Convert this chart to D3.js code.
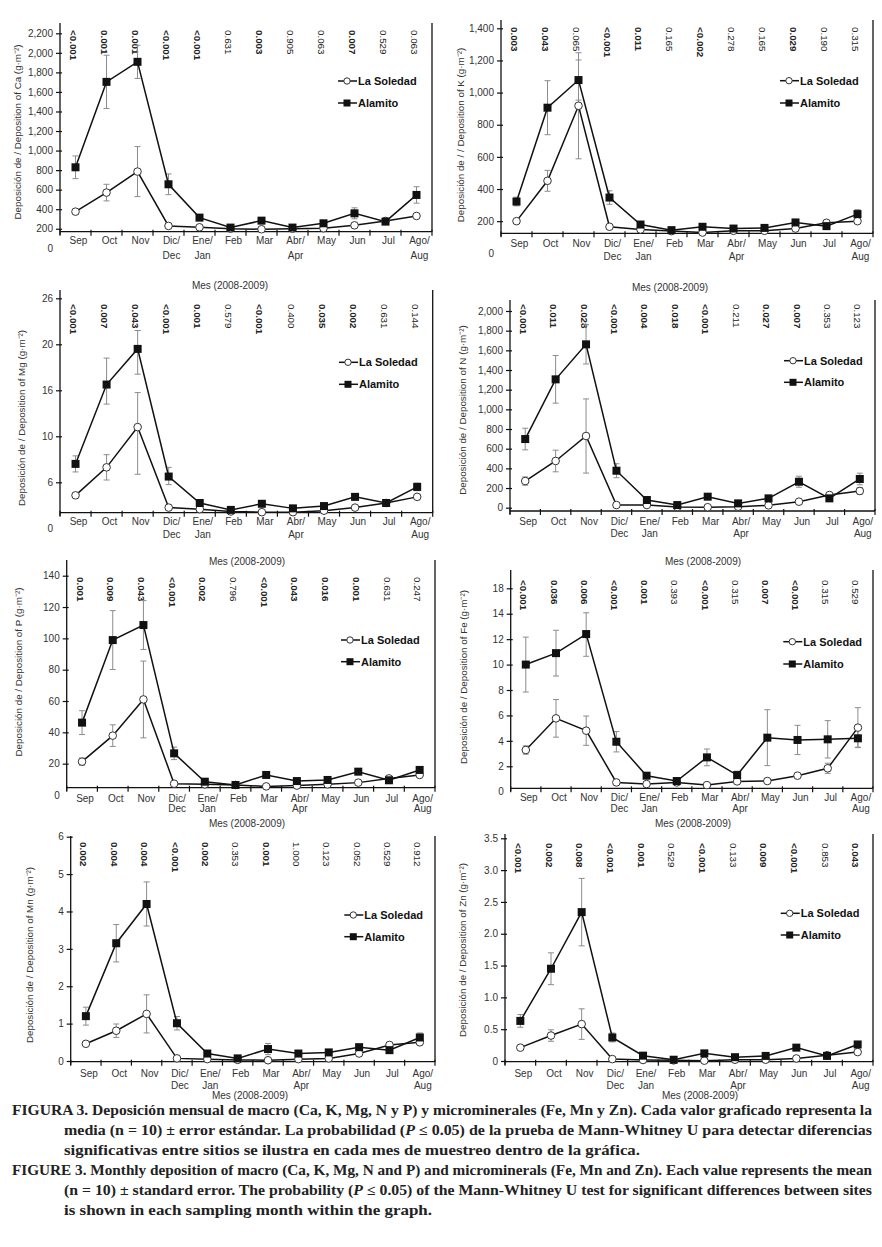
<!DOCTYPE html>
<html>
<head>
<meta charset="utf-8">
<script src="https://cdn.jsdelivr.net/npm/d3@7"></script>
<style>
body { margin: 0; background: #fff; }
svg { display: block; }
</style>
</head>
<body>
<svg id="fig" width="882" height="1247"></svg>
<script>
// months, two lines each
var monthTop = ["Sep", "Oct", "Nov", "Dic/", "Ene/", "Feb", "Mar", "Abr/", "May", "Jun", "Jul", "Ago/"];
var monthBot = ["", "", "", "Dec", "Jan", "", "", "Apr", "", "", "", "Aug"];

// Mann-Whitney U probabilities
var probCa = ["<0.001", "0.001", "0.001", "<0.001", "<0.001", "0.631", "0.003", "0.905", "0.063", "0.007", "0.529", "0.063"];
var probK  = ["0.003", "0.043", "0.065", "<0.001", "0.011", "0.165", "<0.002", "0.278", "0.165", "0.029", "0.190", "0.315"];
var probMg = ["<0.001", "0.007", "0.043", "<0.001", "0.001", "0.579", "<0.001", "0.400", "0.035", "0.002", "0.631", "0.144"];
var probN  = ["<0.001", "0.011", "0.028", "<0.001", "0.004", "0.018", "<0.001", "0.211", "0.027", "0.007", "0.353", "0.123"];
var probP  = ["0.001", "0.009", "0.043", "<0.001", "0.002", "0.796", "<0.001", "0.043", "0.016", "0.001", "0.631", "0.247"];
var probFe = ["<0.001", "0.036", "0.006", "<0.001", "0.001", "0.393", "<0.001", "0.315", "0.007", "<0.001", "0.315", "0.529"];
var probMn = ["0.002", "0.004", "0.004", "<0.001", "0.002", "0.353", "0.001", "1.000", "0.123", "0.052", "0.529", "0.912"];
var probZn = ["<0.001", "0.002", "0.008", "<0.001", "0.001", "0.529", "<0.001", "0.133", "0.009", "<0.001", "0.853", "0.043"];

// mean and standard error, La Soledad (sol) and Alamito (ala)
var solCa = [375, 570, 785, 229, 215, 201, 195, 201, 205, 235, 280, 331];
var solCaSe = [14, 85, 256, 10, 8, 6, 6, 6, 6, 10, 12, 14];
var alaCa = [829, 1703, 1908, 655, 314, 212, 283, 212, 256, 358, 273, 546];
var alaCaSe = [116, 273, 170, 106, 27, 14, 17, 14, 17, 56, 17, 84];

var solK = [200, 451, 918, 165, 148, 138, 129, 140, 140, 154, 190, 200];
var solKSe = [8, 65, 330, 6, 5, 5, 4, 5, 5, 6, 8, 8];
var alaK = [322, 906, 1078, 347, 179, 144, 165, 154, 158, 192, 169, 244];
var alaKSe = [27, 168, 125, 42, 10, 6, 8, 8, 8, 12, 8, 28];

var solMg = [4.3, 7.3, 11.2, 2.7, 2.5, 2.2, 2.1, 2.1, 2.3, 2.7, 3.3, 4.1];
var solMgSe = [0.2, 1.1, 4.5, 0.1, 0.1, 0.1, 0.1, 0.1, 0.1, 0.1, 0.1, 0.3];
var alaMg = [7.6, 16.5, 19.6, 6.5, 3.3, 2.4, 3.2, 2.6, 2.9, 4.1, 3.3, 5.4];
var alaMgSe = [0.7, 2.3, 2.2, 0.8, 0.2, 0.1, 0.2, 0.1, 0.1, 0.2, 0.1, 0.5];

var solN = [271, 475, 729, 27, 27, 7, 5, 10, 24, 61, 129, 170];
var solNSe = [42, 110, 377, 8, 6, 4, 4, 4, 5, 8, 12, 34];
var alaN = [698, 1305, 1661, 376, 78, 27, 112, 44, 95, 264, 95, 292];
var alaNSe = [110, 242, 200, 71, 12, 6, 14, 8, 12, 56, 12, 59];

var solP = [21.3, 37.9, 61.0, 7.2, 6.8, 6.4, 5.5, 6.0, 6.8, 7.9, 10.6, 12.8];
var solPSe = [2.3, 6.9, 24.5, 0.5, 0.3, 0.3, 0.3, 0.3, 0.4, 0.5, 1.0, 1.0];
var alaP = [46.2, 98.9, 108.5, 26.6, 8.5, 6.4, 12.8, 8.9, 9.6, 14.9, 9.4, 16.0];
var alaPSe = [7.6, 18.8, 15.6, 4.0, 0.8, 0.4, 1.0, 0.6, 0.6, 1.0, 0.6, 1.2];

var solFe = [3.28, 5.77, 4.8, 0.73, 0.6, 0.73, 0.52, 0.81, 0.84, 1.26, 1.84, 5.04];
var solFeSe = [0.33, 1.48, 1.15, 0.08, 0.05, 0.05, 0.05, 0.08, 0.08, 0.1, 0.4, 1.57];
var alaFe = [10.0, 10.9, 12.4, 3.93, 1.26, 0.84, 2.7, 1.31, 4.25, 4.07, 4.12, 4.2];
var alaFeSe = [2.16, 1.8, 1.75, 0.8, 0.15, 0.1, 0.66, 0.3, 2.2, 1.15, 1.47, 0.7];

var solMn = [0.46, 0.81, 1.26, 0.07, 0.05, 0.03, 0.02, 0.05, 0.07, 0.2, 0.43, 0.5];
var solMnSe = [0.02, 0.18, 0.51, 0.01, 0.01, 0.01, 0.01, 0.01, 0.01, 0.02, 0.05, 0.04];
var alaMn = [1.2, 3.15, 4.2, 1.01, 0.2, 0.07, 0.32, 0.2, 0.23, 0.37, 0.29, 0.63];
var alaMnSe = [0.24, 0.5, 0.59, 0.18, 0.04, 0.02, 0.15, 0.08, 0.05, 0.05, 0.03, 0.12];

var solZn = [0.21, 0.40, 0.58, 0.03, 0.016, 0.01, 0.005, 0.02, 0.02, 0.04, 0.09, 0.14];
var solZnSe = [0.01, 0.09, 0.24, 0.005, 0.005, 0.005, 0.005, 0.005, 0.005, 0.005, 0.01, 0.01];
var alaZn = [0.63, 1.45, 2.34, 0.37, 0.084, 0.02, 0.12, 0.06, 0.08, 0.21, 0.08, 0.26];
var alaZnSe = [0.10, 0.25, 0.53, 0.07, 0.01, 0.005, 0.02, 0.01, 0.01, 0.02, 0.01, 0.02];

// y tick labels as printed
var ticksCa = [0, 200, 400, 600, 800, 1000, 1200, 1400, 1600, 1800, 2000, 2200];
var ticksK = [0, 200, 400, 600, 800, 1000, 1200, 1400];
var ticksMg = [0, 6, 10, 16, 20, 26];
var ticksN = [0, 200, 400, 600, 800, 1000, 1200, 1400, 1600, 1800, 2000];
var ticksP = [0, 20, 40, 60, 80, 100, 120, 140];
var ticksFe = [0, 2, 4, 6, 8, 10, 12, 14, 18];
var ticksMn = [0, 1, 2, 3, 4, 5, 6];
var ticksZn = [0, 0.5, 1.0, 1.5, 2.0, 2.5, 3.0, 3.5];

var panels = [
  {el: "Ca", sol: solCa, solSe: solCaSe, ala: alaCa, alaSe: alaCaSe, prob: probCa, ticks: ticksCa, fmt: d3.format(","),
   ylab: "Deposición de / Deposition of Ca (g·m⁻²)"},
  {el: "K", sol: solK, solSe: solKSe, ala: alaK, alaSe: alaKSe, prob: probK, ticks: ticksK, fmt: d3.format(","),
   ylab: "Deposición de / / Deposition of K (g·m⁻²)"},
  {el: "Mg", sol: solMg, solSe: solMgSe, ala: alaMg, alaSe: alaMgSe, prob: probMg, ticks: ticksMg, fmt: d3.format("d"),
   ylab: "Deposición de / Deposition of Mg (g·m⁻²)"},
  {el: "N", sol: solN, solSe: solNSe, ala: alaN, alaSe: alaNSe, prob: probN, ticks: ticksN, fmt: d3.format(","),
   ylab: "Deposición de / Deposition of N (g·m⁻²)"},
  {el: "P", sol: solP, solSe: solPSe, ala: alaP, alaSe: alaPSe, prob: probP, ticks: ticksP, fmt: d3.format("d"),
   ylab: "Deposición de / Deposition of P (g·m⁻²)"},
  {el: "Fe", sol: solFe, solSe: solFeSe, ala: alaFe, alaSe: alaFeSe, prob: probFe, ticks: ticksFe, fmt: d3.format("d"),
   ylab: "Deposición de / Deposition of Fe (g·m⁻²)"},
  {el: "Mn", sol: solMn, solSe: solMnSe, ala: alaMn, alaSe: alaMnSe, prob: probMn, ticks: ticksMn, fmt: d3.format("d"),
   ylab: "Deposición de / Deposition of Mn (g·m⁻²)"},
  {el: "Zn", sol: solZn, solSe: solZnSe, ala: alaZn, alaSe: alaZnSe, prob: probZn, ticks: ticksZn,
   fmt: function(d){ return d === 0 ? "0" : d3.format(".1f")(d); },
   ylab: "Deposición de / Deposition of Zn (g·m⁻²)"}
];

// where each panel sits on the page
var layout = {
  Ca: {x0: 60, x1: 432, top: 23, base: 231.7, zeroY: 248.3, tickTop: 33.3, pTop: 30, legX: 358, legY: 81, legGap: 22,
       titleX: 230, titleY: 285, ylabX: 18, ylabY: 132, m1: 240.7, m2: 255.7},
  K:  {x0: 501, x1: 873, top: 20, base: 233.3, zeroY: 253.3, tickTop: 28.3, pTop: 27, legX: 800, legY: 80.7, legGap: 22.3,
       titleX: 670, titleY: 287, ylabX: 461, ylabY: 135, m1: 243.3, m2: 256.7},
  Mg: {x0: 60, x1: 432.7, top: 290, base: 512.7, zeroY: 528.3, tickTop: 298.3, pTop: 304, legX: 359, legY: 362.3, legGap: 22,
       titleX: 247, titleY: 561, ylabX: 22, ylabY: 418, m1: 521.7, m2: 534},
  N:  {x0: 510, x1: 875, top: 300, base: 511, zeroY: 507.7, tickTop: 311, pTop: 304, legX: 804, legY: 360.7, legGap: 21.6,
       titleX: 703, titleY: 561, ylabX: 463, ylabY: 410, m1: 521, m2: 533.3},
  P:  {x0: 66.7, x1: 435, top: 560, base: 787.7, zeroY: 795, tickTop: 575.7, pTop: 577, legX: 361, legY: 640, legGap: 21.7,
       titleX: 247, titleY: 823, ylabX: 19, ylabY: 672, m1: 798, m2: 808.5},
  Fe: {x0: 510.7, x1: 873, top: 570, base: 788.3, zeroY: 791.7, tickTop: 588.3, pTop: 580, legX: 803.3, legY: 641.7, legGap: 22.3,
       titleX: 693, titleY: 823, ylabX: 464, ylabY: 677, m1: 797.7, m2: 808.3},
  Mn: {x0: 70.7, x1: 435, top: 836, base: 1061.7, zeroY: 1061, tickTop: 836.7, pTop: 842, legX: 364.3, legY: 915, legGap: 21.7,
       titleX: 250, titleY: 1095, ylabX: 30, ylabY: 955, m1: 1073, m2: 1085},
  Zn: {x0: 505, x1: 873, top: 834, base: 1061.7, zeroY: 1061, tickTop: 838.3, pTop: 843, legX: 800.7, legY: 913.3, legGap: 21.7,
       titleX: 700, titleY: 1095, ylabX: 463, ylabY: 950, m1: 1073.3, m2: 1085}
};

var svg = d3.select("#fig");
var sans = "'Liberation Sans', Arial, sans-serif";
var ink = "#111";

function drawPanel(P) {
  var L = layout[P.el];
  var g = svg.append("g").attr("font-family", sans);

  var x = d3.scaleBand().domain(monthTop).range([L.x0, L.x1]);
  var cx = function(i) { return x(monthTop[i]) + x.bandwidth() / 2; };
  var n = P.ticks.length;
  // printed labels are evenly spaced, so map each label to an even step
  var y = d3.scaleLinear().domain(P.ticks)
    .range(P.ticks.map(function(t, i) { return L.zeroY + (L.tickTop - L.zeroY) * i / (n - 1); }));

  // frame: y axis, right border, x axis
  g.append("line").attr("x1", L.x0).attr("x2", L.x0).attr("y1", L.top).attr("y2", L.base + 3)
    .attr("stroke", ink).attr("stroke-width", 1.3);
  g.append("line").attr("x1", L.x1).attr("x2", L.x1).attr("y1", L.top).attr("y2", L.base)
    .attr("stroke", ink).attr("stroke-width", 1.3);
  g.append("line").attr("x1", L.x0).attr("x2", L.x1).attr("y1", L.base).attr("y2", L.base)
    .attr("stroke", ink).attr("stroke-width", 1.3);

  var bounds = monthTop.map(function(m) { return x(m); }).concat([L.x1]);
  g.selectAll(".xt").data(bounds).enter().append("line")
    .attr("x1", function(d) { return d; }).attr("x2", function(d) { return d; })
    .attr("y1", L.base - 2).attr("y2", L.base + 4)
    .attr("stroke", ink).attr("stroke-width", 1.2);

  var ax = g.append("g").attr("transform", "translate(" + L.x0 + ",0)")
    .call(d3.axisLeft(y).tickValues(P.ticks).tickSize(4).tickPadding(3).tickFormat(P.fmt));
  ax.select(".domain").remove();
  ax.selectAll(".tick line").attr("stroke", ink).attr("stroke-width", 1.2).attr("x2", -4).attr("x1", 2);
  ax.selectAll(".tick").filter(function(t) { return y(t) > L.base + 1; }).select("line").remove();
  ax.selectAll(".tick text").attr("font-size", 10).attr("font-family", sans).attr("fill", "#333");

  // month labels
  g.selectAll(".m1").data(monthTop).enter().append("text")
    .attr("x", function(d, i) { return cx(i) + 3; }).attr("y", L.m1).attr("dy", "0.35em")
    .attr("text-anchor", "middle").attr("font-size", 10).attr("fill", "#333").text(function(d) { return d; });
  g.selectAll(".m2").data(monthBot).enter().append("text")
    .attr("x", function(d, i) { return cx(i) + 3; }).attr("y", L.m2).attr("dy", "0.35em")
    .attr("text-anchor", "middle").attr("font-size", 10).attr("fill", "#333").text(function(d) { return d; });

  g.append("text").attr("x", L.titleX).attr("y", L.titleY).attr("dy", "0.35em")
    .attr("text-anchor", "middle").attr("font-size", 10).attr("fill", "#333").text("Mes (2008-2009)");

  g.append("text").attr("transform", "translate(" + L.ylabX + "," + L.ylabY + ") rotate(-90)")
    .attr("dy", "0.35em").attr("text-anchor", "middle").attr("font-size", 9.8).attr("fill", "#333").text(P.ylab);

  // probabilities, vertical, bold when significant
  g.selectAll(".pv").data(P.prob).enter().append("text")
    .attr("transform", function(d, i) { return "translate(" + (cx(i) - 2) + "," + L.pTop + ") rotate(90)"; })
    .attr("dy", "0.35em").attr("font-size", 9.8).attr("fill", "#222")
    .attr("font-weight", function(d) { return parseFloat(d.replace("<", "")) <= 0.05 ? "bold" : "normal"; })
    .text(function(d) { return d; });

  // error bars
  var series = [{v: P.sol, se: P.solSe}, {v: P.ala, se: P.alaSe}];
  series.forEach(function(s) {
    var eb = g.append("g").attr("stroke", "#8c8c8c").attr("stroke-width", 1);
    s.v.forEach(function(v, i) {
      var yt = y(v + s.se[i]), yb = y(v - s.se[i]), c = cx(i);
      eb.append("line").attr("x1", c).attr("x2", c).attr("y1", yt).attr("y2", yb);
      eb.append("line").attr("x1", c - 3).attr("x2", c + 3).attr("y1", yt).attr("y2", yt);
      eb.append("line").attr("x1", c - 3).attr("x2", c + 3).attr("y1", yb).attr("y2", yb);
    });
  });

  var line = d3.line().x(function(d, i) { return cx(i); }).y(function(d) { return y(d); });
  g.append("path").attr("d", line(P.sol)).attr("fill", "none").attr("stroke", ink).attr("stroke-width", 1.5);
  g.append("path").attr("d", line(P.ala)).attr("fill", "none").attr("stroke", ink).attr("stroke-width", 1.5);

  g.selectAll(".cs").data(P.sol).enter().append("circle")
    .attr("cx", function(d, i) { return cx(i); }).attr("cy", function(d) { return y(d); }).attr("r", 3.8)
    .attr("fill", "#fff").attr("stroke", "#333").attr("stroke-width", 1);
  g.selectAll(".sq").data(P.ala).enter().append("rect")
    .attr("x", function(d, i) { return cx(i) - 4; }).attr("y", function(d) { return y(d) - 4; })
    .attr("width", 8).attr("height", 8).attr("fill", ink);

  // legend
  var lg = g.append("g");
  lg.append("line").attr("x1", L.legX - 20).attr("x2", L.legX - 1).attr("y1", L.legY).attr("y2", L.legY)
    .attr("stroke", ink).attr("stroke-width", 1.5);
  lg.append("circle").attr("cx", L.legX - 11).attr("cy", L.legY).attr("r", 3.2)
    .attr("fill", "#fff").attr("stroke", "#333").attr("stroke-width", 1);
  lg.append("text").attr("x", L.legX).attr("y", L.legY).attr("dy", "0.35em").attr("font-size", 11)
    .attr("font-weight", "bold").attr("fill", ink).text("La Soledad");
  var ay = L.legY + L.legGap;
  lg.append("line").attr("x1", L.legX - 20).attr("x2", L.legX - 1).attr("y1", ay).attr("y2", ay)
    .attr("stroke", ink).attr("stroke-width", 1.5);
  lg.append("rect").attr("x", L.legX - 14.5).attr("y", ay - 3.5).attr("width", 7).attr("height", 7).attr("fill", ink);
  lg.append("text").attr("x", L.legX).attr("y", ay).attr("dy", "0.35em").attr("font-size", 11)
    .attr("font-weight", "bold").attr("fill", ink).text("Alamito");
}

panels.forEach(drawPanel);

// caption
var capLines = [
  {x: 12, y: 1115, w: 860, parts: [["FIGURA 3. Deposición mensual de macro (Ca, K, Mg, N y P) y microminerales (Fe, Mn y Zn). Cada valor graficado representa la", false]]},
  {x: 64, y: 1135, w: 808, parts: [["media (n = 10) ± error estándar. La probabilidad (", false], ["P", true], [" ≤ 0.05) de la prueba de Mann-Whitney U para detectar diferencias", false]]},
  {x: 64, y: 1155, w: 576, parts: [["significativas entre sitios se ilustra en cada mes de muestreo dentro de la gráfica.", false]]},
  {x: 12, y: 1175, w: 860, parts: [["FIGURE 3. Monthly deposition of macro (Ca, K, Mg, N and P) and microminerals (Fe, Mn and Zn). Each value represents the mean", false]]},
  {x: 64, y: 1195, w: 808, parts: [["(n = 10) ± standard error. The probability (", false], ["P", true], [" ≤ 0.05) of the Mann-Whitney U test for significant differences between sites", false]]},
  {x: 64, y: 1215, w: 368, parts: [["is shown in each sampling month within the graph.", false]]}
];
var cap = svg.append("g").attr("font-family", "'Liberation Serif', 'Times New Roman', serif")
  .attr("font-size", 14.2).attr("font-weight", "bold").attr("fill", "#222");
capLines.forEach(function(l) {
  var t = cap.append("text").attr("x", l.x).attr("y", l.y)
    .attr("textLength", l.w).attr("lengthAdjust", "spacingAndGlyphs");
  l.parts.forEach(function(p) {
    t.append("tspan").attr("font-style", p[1] ? "italic" : "normal").text(p[0]);
  });
});
</script>
</body>
</html>
